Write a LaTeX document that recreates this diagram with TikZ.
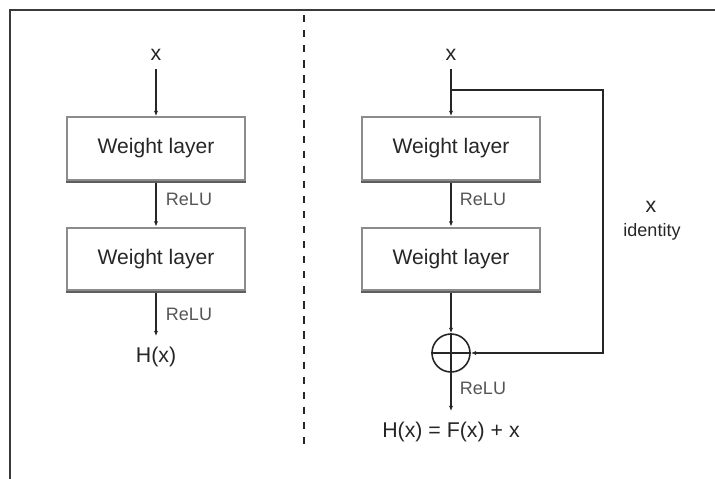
\documentclass[tikz,border=0pt]{standalone}
\usepackage{fontspec}
\setmainfont{Liberation Sans}
\usetikzlibrary{arrows.meta}

\definecolor{LineColor}{HTML}{262626}
\definecolor{BoxColor}{HTML}{8C8C8C}
\definecolor{ShadeColor}{HTML}{5E5E5E}
\definecolor{ReluColor}{HTML}{555555}
\definecolor{FrameColor}{HTML}{3A3A3A}

\tikzset{
  wlayer/.style={draw=BoxColor, line width=1.5pt, minimum width=133.5pt, minimum height=47pt,
                 inner sep=0pt, text=LineColor, font=\fontsize{15.8}{18}\selectfont},
  boxshade/.style={draw=ShadeColor, line width=1.3pt},
  flow/.style={draw=LineColor, line width=1pt, -{Latex[length=4pt,width=3.2pt]}},
  plain/.style={draw=LineColor, line width=1pt},
  varlbl/.style={inner sep=2pt, text=LineColor, font=\fontsize{16}{19}\selectfont},
  relulbl/.style={inner sep=0pt, text=ReluColor, font=\fontsize{13.5}{16}\selectfont},
  addnode/.style={circle, draw=LineColor, line width=1.2pt, minimum size=28.5pt, inner sep=0pt},
}

\begin{document}
\begin{tikzpicture}[x=0.75pt, y=-0.75pt]
  % ===== Parámetros =====
  \def\colL{156}
  \def\colR{451}
  \def\rowA{148.5}
  \def\rowB{259}
  \def\skipX{603}
  \def\skipY{90}

  \useasboundingbox (0,0) rectangle (715,479);

  % ===== Marco y separador =====
  \draw[FrameColor, line width=0.9pt] (715,10) -- (10,10) -- (10,479);
  \draw[LineColor, line width=1.4pt, dash pattern=on 5.5pt off 5.8pt] (304,15) -- (304,450);

  % ===== Red plana (izquierda) =====
  \node[varlbl]  (xl)  at (\colL,55)    {x};
  \node[wlayer]  (wl1) at (\colL,\rowA) {Weight layer};
  \node[wlayer]  (wl2) at (\colL,\rowB) {Weight layer};
  \node[varlbl]  (hl)  at (\colL,357)   {H(x)};
  \node[relulbl] (rl1) at (189,199)     {ReLU};
  \node[relulbl] (rl2) at (189,314)     {ReLU};

  \draw[flow, shorten <=4pt] (xl) -- (wl1);
  \draw[flow] (wl1) -- (wl2);
  \draw[flow, shorten >=6pt] (wl2) -- (hl);

  % ===== Bloque residual (derecha) =====
  \node[varlbl]  (xr)  at (\colR,55)    {x};
  \node[wlayer]  (wr1) at (\colR,\rowA) {Weight layer};
  \node[wlayer]  (wr2) at (\colR,\rowB) {Weight layer};
  \node[addnode] (sum) at (\colR,353)   {};
  \node[varlbl]  (hr)  at (\colR,432)   {H(x) = F(x) + x};
  \node[relulbl] (rr1) at (483,199)     {ReLU};
  \node[relulbl] (rr2) at (483,388)     {ReLU};
  \node[varlbl]  (xid) at (651,207)     {x};
  \node[relulbl, text=LineColor] (idl) at (652,232) {identity};

  \draw[plain] (sum.north) -- (sum.south);
  \draw[plain] (sum.west) -- (sum.east);

  \draw[flow, shorten <=4pt] (xr) -- (wr1);
  \draw[flow] (wr1) -- (wr2);
  \draw[flow] (wr2) -- (sum);
  \draw[flow, shorten >=6pt] (sum) -- (hr);

  % atajo identidad
  \coordinate (branch)  at (\colR,\skipY);
  \coordinate (skipTop) at (\skipX,\skipY);
  \coordinate (skipBot) at (\skipX,353);
  \draw[flow] (branch) -- (skipTop) -- (skipBot) -- (sum);

  % sombra de las cajas
  \foreach \b in {wl1,wl2,wr1,wr2}{
    \draw[boxshade] ([yshift=-0.7pt]\b.south west) -- ([yshift=-0.7pt]\b.south east);
  }
\end{tikzpicture}
\end{document}
